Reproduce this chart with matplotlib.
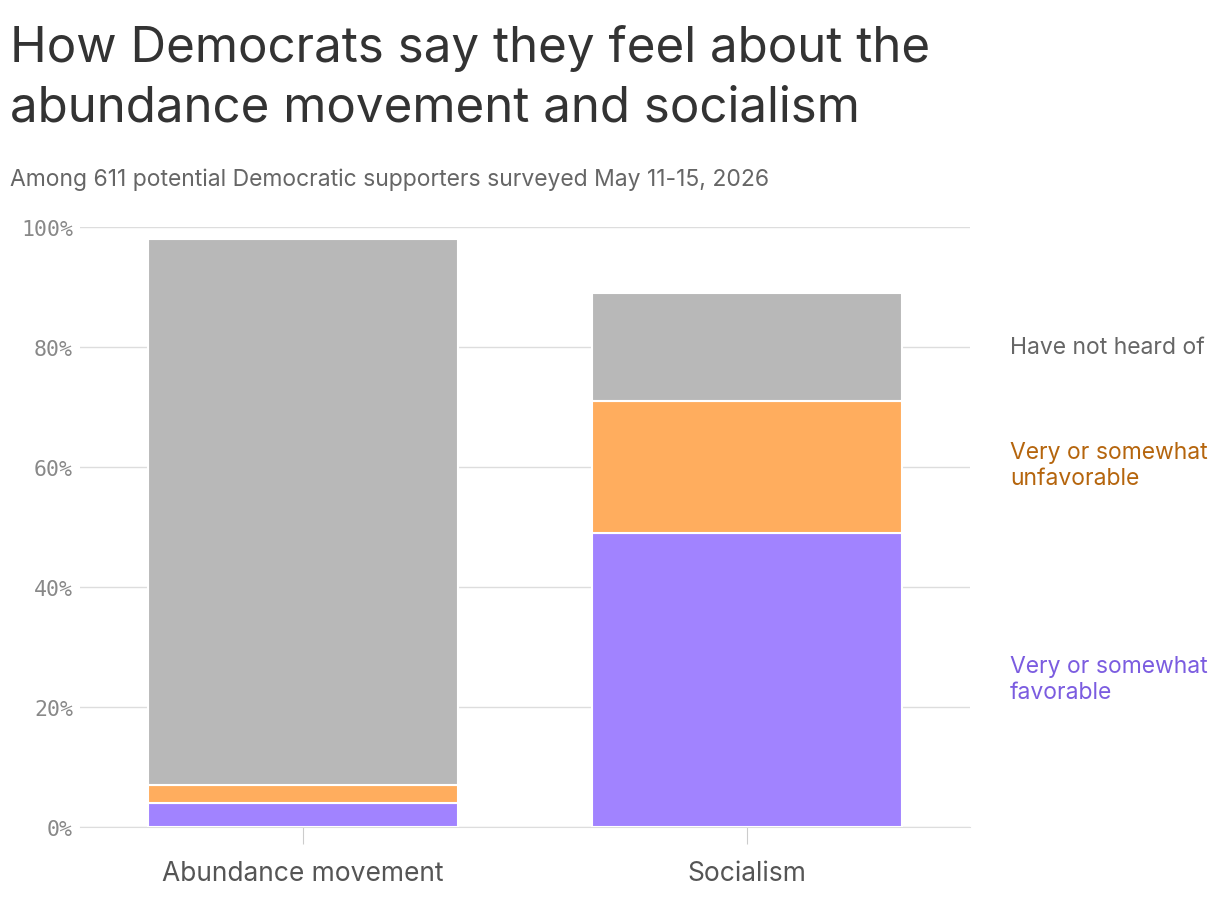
import matplotlib
matplotlib.use("Agg")
import matplotlib.pyplot as plt

categories = ["Abundance movement", "Socialism"]
favorable = [4, 49]
unfavorable = [3, 22]
not_heard = [91, 18]
series_labels = ["Very or somewhat\nfavorable", "Very or somewhat\nunfavorable", "Have not heard of"]
yticks = [0, 20, 40, 60, 80, 100]

colors = ["#a183ff", "#ffad5e", "#b8b8b8"]
label_colors = ["#7b5ce0", "#b5650d", "#666666"]

fig = plt.figure(figsize=(12.2, 9.04), dpi=100)
ax = fig.add_axes([80/1220, (904-828)/904, 890/1220, 600/904])
x = list(range(len(categories)))
bottom = [0]*len(x)
for vals, c in zip([favorable, unfavorable, not_heard], colors):
    ax.bar(x, vals, bottom=bottom, width=0.698, color=c, edgecolor="white", linewidth=1.5, zorder=3)
    bottom = [b+v for b, v in zip(bottom, vals)]

ax.set_xlim(-0.502, 1.502)
ax.set_ylim(0, 100)
ax.set_yticks(yticks)
ax.set_yticklabels([f"{t}%" for t in yticks], family="DejaVu Sans Mono", color="#888888", fontsize=15.5)
ax.set_xticks(x)
ax.set_xticklabels(categories, family="Inter", color="#555555", fontsize=19)
ax.tick_params(axis="y", length=0, pad=5)
ax.tick_params(axis="x", length=12, color="#cccccc", pad=12)
ax.grid(axis="y", color="#dddddd", linewidth=1, zorder=0)
for s in ["top", "right", "left"]:
    ax.spines[s].set_visible(False)
ax.spines["bottom"].set_color("#dddddd")

# right labels (positions in %)
label_y = [24.7, 60.3, 80]
for t, yy, c in zip(series_labels, label_y, label_colors):
    fig.text(1010/1220, (904 - (828 - yy*6))/904, t, color=c,
             fontsize=16.5, family="Inter", va="center", ha="left", linespacing=1.25)

fig.text(10/1220, 1-78/904, "How Democrats say they feel about the\nabundance movement and socialism",
         fontsize=35.5, color="#333333", family="Inter", va="center", ha="left", linespacing=1.38)
fig.text(10/1220, 1-180/904, "Among 611 potential Democratic supporters surveyed May 11-15, 2026",
         fontsize=16.5, color="#666666", family="Inter", va="center", ha="left")
fig.savefig("out.png", dpi=100)
